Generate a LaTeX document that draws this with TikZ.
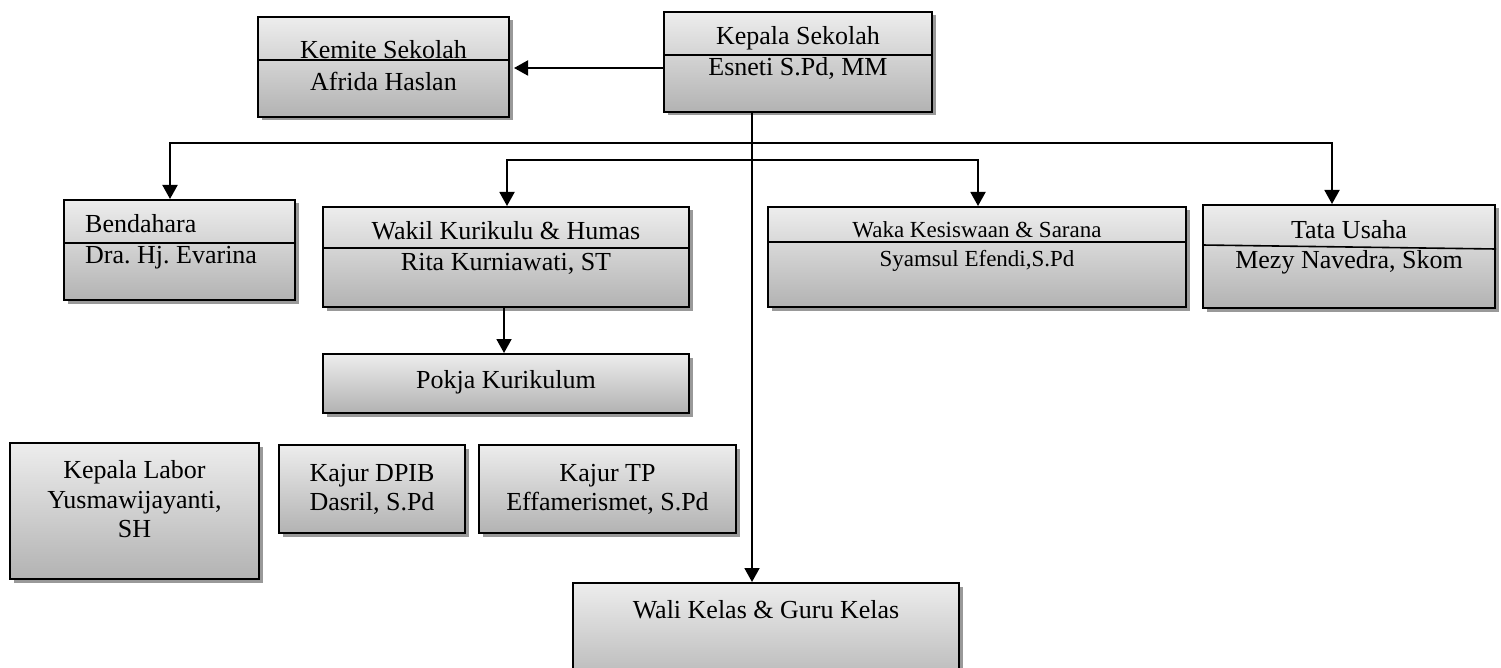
\documentclass[tikz,border=0pt]{standalone}
\usepackage{fontspec}
\setmainfont{Liberation Serif}
\usetikzlibrary{positioning,arrows.meta,calc,shadows}
\frenchspacing

\begin{document}
\begin{tikzpicture}[x=1pt, y=-1pt,
    box/.style={draw, line width=2pt, anchor=north west, inner sep=0pt,
                top color=black!7, bottom color=black!30,
                drop shadow={shadow xshift=3.5pt, shadow yshift=-3.5pt,
                             fill=black!40, opacity=1}},
    txt/.style={anchor=base, inner sep=0pt, font=\fontsize{26}{30}\selectfont},
    small/.style={txt, font=\fontsize{23}{27}\selectfont},
    sep/.style={line width=1.6pt},
    arr/.style={-{Triangle[length=14pt,width=15pt]}, line width=1.9pt},
    darr/.style={{Triangle[length=14pt,width=15pt]}-{Triangle[length=14pt,width=15pt]}, line width=1.9pt},
]
\path[use as bounding box, fill=white] (0,0) rectangle (1501,668);

% ---- Pimpinan ----
\node[box, minimum width=251pt, minimum height=100pt] (kemite) at (257,16) {};
\node[box, minimum width=268pt, minimum height=100pt] (kepala) at (663,11) {};
\draw[sep] (kemite.west |- 0,60) -- (kemite.east |- 0,60);
\draw[sep] (kepala.west |- 0,55) -- (kepala.east |- 0,55);
\node[txt] (kemiteT) at (kemite.north |- 0,59) {Kemite Sekolah};
\node[txt] (kemiteN) at (kemite.north |- 0,91) {Afrida Haslan};
\node[txt] (kepalaT) at (kepala.north |- 0,45) {Kepala Sekolah};
\node[txt] (kepalaN) at (kepala.north |- 0,76) {Esneti S.Pd, MM};

% ---- Staf ----
\node[box, minimum width=231pt, minimum height=100pt] (bendahara) at (63,199) {};
\node[box, minimum width=366pt, minimum height=100pt] (wakil) at (322,206) {};
\node[box, minimum width=418pt, minimum height=100pt] (waka) at (767,206) {};
\node[box, minimum width=292pt, minimum height=103pt] (tata) at (1202,204) {};
\node[box, minimum width=366pt, minimum height=59pt] (pokja) at (322,353) {};
\draw[sep] (bendahara.west |- 0,243) -- (bendahara.east |- 0,243);
\draw[sep] (wakil.west |- 0,248) -- (wakil.east |- 0,248);
\draw[sep] (waka.west |- 0,242) -- (waka.east |- 0,242);
\draw[sep] (tata.west |- 0,245) -- (tata.east |- 0,249);
\node[txt, anchor=base west] (bendaharaT) at (85,233) {Bendahara};
\node[txt, anchor=base west] (bendaharaN) at (85,264) {Dra. Hj. Evarina};
\node[txt] (wakilT) at (wakil.north |- 0,240) {Wakil Kurikulu \& Humas};
\node[txt] (wakilN) at (wakil.north |- 0,270) {Rita Kurniawati, ST};
\node[small] (wakaT) at (waka.north |- 0,238) {Waka Kesiswaan \& Sarana};
\node[small] (wakaN) at (waka.north |- 0,267) {Syamsul Efendi,S.Pd};
\node[txt] (tataT) at (tata.north |- 0,239) {Tata Usaha};
\node[txt] (tataN) at (tata.north |- 0,269) {Mezy Navedra, Skom};
\node[txt] (pokjaT) at (pokja.north |- 0,388) {Pokja Kurikulum};

% ---- Bawah ----
\node[box, minimum width=249pt, minimum height=136pt] (labor) at (9,442) {};
\node[box, minimum width=186pt, minimum height=88pt] (dpib) at (278,444) {};
\node[box, minimum width=257pt, minimum height=88pt] (tp) at (478,444) {};
\node[box, minimum width=386pt, minimum height=110pt] (wali) at (572,582) {};
\node[txt] (laborT) at (labor.north |- 0,478) {Kepala Labor};
\node[txt] (laborN) at (labor.north |- 0,508) {Yusmawijayanti,};
\node[txt] (laborS) at (labor.north |- 0,537) {SH};
\node[txt] (dpibT) at (dpib.north |- 0,481) {Kajur DPIB};
\node[txt] (dpibN) at (dpib.north |- 0,510) {Dasril, S.Pd};
\node[txt] (tpT) at (tp.north |- 0,481) {Kajur TP};
\node[txt] (tpN) at (tp.north |- 0,510) {Effamerismet, S.Pd};
\node[txt] (waliT) at (wali.north |- 0,618) {Wali Kelas \& Guru Kelas};

% ---- Garis ----
\coordinate (trunk) at (752,143);
\coordinate (bus1w) at (170,143);
\coordinate (bus1e) at (1332,143);
\coordinate (bus2w) at (507,160);
\coordinate (bus2e) at (978,160);
\coordinate (drop) at (504,330);

\draw[arr] (kepala.west |- 0,68) -- ([xshift=4pt]kemite.east |- 0,68);
\draw[arr] (kepala.south -| trunk) -- (wali.north -| trunk);
\draw[darr] (bus1w |- bendahara.north) -- (bus1w) -- (bus1e) -- (bus1e |- tata.north);
\draw[darr] (bus2w |- wakil.north) -- (bus2w) -- (bus2e) -- (bus2e |- waka.north);
\draw[arr] (wakil.south -| drop) -- (pokja.north -| drop);
\end{tikzpicture}
\end{document}
